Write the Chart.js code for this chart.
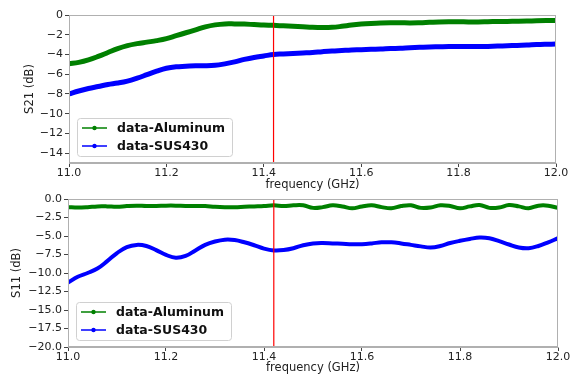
<!DOCTYPE html>
<html>
<head>
<meta charset="utf-8">
<script src="https://cdn.jsdelivr.net/npm/chart.js@4/dist/chart.umd.min.js"></script>
<style>
html, body { margin: 0; padding: 0; background: #fff; overflow: hidden; }
#wrap { position: relative; width: 572px; height: 375px; }
canvas { position: absolute; left: 0; }
#topChart { top: 0; }
#botChart { top: 185px; }
</style>
</head>
<body>
<div id="wrap">
    <canvas id="topChart" width="572" height="192"></canvas>
    <canvas id="botChart" width="572" height="190"></canvas>
</div>
<script>
// frequency points (GHz)
const freq = [11.00, 11.02, 11.04, 11.06, 11.08, 11.10, 11.12, 11.14, 11.16, 11.18,
              11.20, 11.22, 11.24, 11.26, 11.28, 11.30, 11.32, 11.34, 11.36, 11.38,
              11.40, 11.42, 11.44, 11.46, 11.48, 11.50, 11.52, 11.54, 11.56, 11.58,
              11.60, 11.62, 11.64, 11.66, 11.68, 11.70, 11.72, 11.74, 11.76, 11.78,
              11.80, 11.82, 11.84, 11.86, 11.88, 11.90, 11.92, 11.94, 11.96, 11.98, 12.00];

// S21 (dB)
const s21Aluminum = [-4.95, -4.8, -4.55, -4.2, -3.8, -3.4, -3.1, -2.9, -2.75, -2.6,
                     -2.4, -2.1, -1.8, -1.5, -1.2, -1.0, -0.9, -0.9, -0.92, -0.97,
                     -1.02, -1.05, -1.1, -1.15, -1.2, -1.25, -1.27, -1.25, -1.15, -1.02,
                     -0.92, -0.85, -0.8, -0.78, -0.78, -0.8, -0.78, -0.74, -0.7, -0.68,
                     -0.68, -0.7, -0.7, -0.68, -0.66, -0.65, -0.64, -0.62, -0.58, -0.56, -0.57];
const s21SUS430 = [-8.0, -7.7, -7.45, -7.25, -7.05, -6.9, -6.7, -6.4, -6.05, -5.7,
                   -5.4, -5.25, -5.2, -5.15, -5.15, -5.1, -4.95, -4.75, -4.5, -4.3,
                   -4.15, -4.0, -3.95, -3.9, -3.85, -3.8, -3.72, -3.65, -3.6, -3.55,
                   -3.52, -3.48, -3.45, -3.4, -3.37, -3.32, -3.28, -3.24, -3.22, -3.2,
                   -3.2, -3.2, -3.2, -3.18, -3.15, -3.12, -3.08, -3.05, -3.0, -2.97, -2.95];

// S11 (dB)
const s11Aluminum = [-1.1, -1.15, -1.1, -1.0, -1.0, -1.05, -0.95, -0.9, -0.95, -0.95,
                     -0.9, -0.9, -0.95, -0.95, -0.95, -1.05, -1.1, -1.1, -1.05, -1.0,
                     -0.95, -0.85, -0.95, -0.85, -0.85, -1.2, -1.1, -0.85, -1.0, -1.25,
                     -1.0, -0.85, -1.1, -1.25, -0.95, -0.85, -1.2, -1.15, -0.85, -0.95,
                     -1.25, -1.0, -0.82, -1.2, -1.15, -0.82, -1.0, -1.25, -0.9, -0.9, -1.2];
const s11SUS430 = [-11.3, -10.5, -10.0, -9.4, -8.4, -7.3, -6.5, -6.2, -6.35, -6.9,
                   -7.55, -7.95, -7.7, -6.95, -6.2, -5.75, -5.5, -5.55, -5.85, -6.25,
                   -6.7, -6.95, -6.9, -6.65, -6.25, -6.0, -5.95, -6.0, -6.05, -6.1,
                   -6.1, -6.0, -5.85, -5.85, -6.0, -6.2, -6.4, -6.55, -6.35, -5.95,
                   -5.65, -5.4, -5.2, -5.3, -5.7, -6.15, -6.55, -6.65, -6.35, -5.85, -5.3];

const markerFreq = 11.42;

// tick labels
const freqTicks = [11.0, 11.2, 11.4, 11.6, 11.8, 12.0];
const s21Ticks = [0, -2, -4, -6, -8, -10, -12, -14];
const s11Ticks = [0, -2.5, -5, -7.5, -10, -12.5, -15, -17.5, -20];

const seriesNames = ['data-Aluminum', 'data-SUS430'];

const FONT = "'DejaVu Sans', sans-serif";
const TXT = '#222';
const minus = s => String(s).replace('-', '\u2212');

// box around the whole plot area
const frame = {
    id: 'frame',
    afterDatasetsDraw(chart) {
        const { ctx, chartArea: a } = chart;
        ctx.save();
        ctx.strokeStyle = '#b0b0b0';
        ctx.lineWidth = 1;
        ctx.strokeRect(a.left + 0.5, a.top + 0.5, a.right - a.left - 1, a.bottom - a.top - 1);
        ctx.restore();
    }
};

// matplotlib-like legend at lower left inside the axes
const boxLegend = {
    id: 'boxLegend',
    afterDraw(chart) {
        const { ctx, chartArea: a } = chart;
        const w = 155, h = 38;
        const x = a.left + 8, y = a.bottom - 7 - h;
        ctx.save();
        ctx.fillStyle = 'rgba(255,255,255,0.85)';
        ctx.strokeStyle = '#d0d0d0';
        ctx.lineWidth = 1;
        ctx.beginPath();
        ctx.roundRect(x + 0.5, y + 0.5, w, h, 3);
        ctx.fill();
        ctx.stroke();
        const items = chart.data.datasets.filter(d => seriesNames.includes(d.label));
        items.forEach((d, i) => {
            const ly = y + 10 + i * 18;
            ctx.strokeStyle = d.borderColor;
            ctx.lineWidth = 1.5;
            ctx.beginPath();
            ctx.moveTo(x + 5, ly);
            ctx.lineTo(x + 30, ly);
            ctx.stroke();
            ctx.fillStyle = d.borderColor;
            ctx.beginPath();
            ctx.arc(x + 17.5, ly, 2.2, 0, Math.PI * 2);
            ctx.fill();
            ctx.fillStyle = '#111';
            ctx.font = "bold 12.5px " + FONT;
            ctx.textBaseline = 'middle';
            ctx.fillText(d.label, x + 40, ly + 1);
        });
        ctx.restore();
    }
};

function makeChart(id, alum, sus, yMin, yTicks, yTitle, yDec, dims) {
    const ctx = document.getElementById(id).getContext('2d');
    return new Chart(ctx, {
        type: 'line',
        data: {
            datasets: [
                { label: 'marker', data: [{ x: markerFreq, y: yMin }, { x: markerFreq, y: 0 }],
                  borderColor: '#ff0000', borderWidth: 1.2, pointRadius: 0, order: 0 },
                { label: seriesNames[0], data: freq.map((f, i) => ({ x: f, y: alum[i] })),
                  borderColor: '#008000', borderWidth: dims.lw, pointRadius: 0, tension: 0.4, order: 2 },
                { label: seriesNames[1], data: freq.map((f, i) => ({ x: f, y: sus[i] })),
                  borderColor: '#0000ff', borderWidth: dims.lw, pointRadius: 0, tension: 0.4, order: 1 }
            ]
        },
        options: {
            responsive: false,
            animation: false,
            devicePixelRatio: 1,
            layout: { padding: { top: dims.top, right: dims.right, left: 0, bottom: 0 } },
            plugins: { legend: { display: false }, tooltip: { enabled: false } },
            scales: {
                x: {
                    type: 'linear', min: 11, max: 12,
                    afterFit: s => { s.height = dims.xh; },
                    afterBuildTicks: s => { s.ticks = freqTicks.map(v => ({ value: v })); },
                    grid: { drawOnChartArea: false, tickLength: 4, tickColor: '#444' },
                    border: { color: '#b0b0b0' },
                    ticks: { autoSkip: false, maxRotation: 0, padding: 0, color: TXT,
                             font: { family: FONT, size: 11 },
                             callback: v => Number(v).toFixed(1) },
                    title: { display: true, text: 'frequency (GHz)', color: TXT,
                             font: { family: FONT, size: 11.5 }, padding: { top: 0, bottom: 0 } }
                },
                y: {
                    min: yMin, max: 0,
                    afterFit: s => { s.width = dims.yw; },
                    afterBuildTicks: s => { s.ticks = yTicks.map(v => ({ value: v })); },
                    grid: { drawOnChartArea: false, tickLength: 4, tickColor: '#444' },
                    border: { color: '#b0b0b0' },
                    ticks: { autoSkip: false, padding: 2, color: TXT,
                             font: { family: FONT, size: 11 },
                             callback: v => minus(Number(v).toFixed(yDec)) },
                    title: { display: true, text: yTitle, color: TXT,
                             font: { family: FONT, size: 11.5 }, padding: { top: dims.tp, bottom: 0 } }
                }
            }
        },
        plugins: [frame, boxLegend]
    });
}

makeChart('topChart', s21Aluminum, s21SUS430, -15, s21Ticks, 'S21 (dB)', 0,
          { top: 15, right: 16, yw: 69, xh: 29, lw: 5, tp: 23 });
makeChart('botChart', s11Aluminum, s11SUS430, -20, s11Ticks, 'S11 (dB)', 1,
          { top: 14, right: 14, yw: 68, xh: 28, lw: 4, tp: 10 });
</script>
</body>
</html>
